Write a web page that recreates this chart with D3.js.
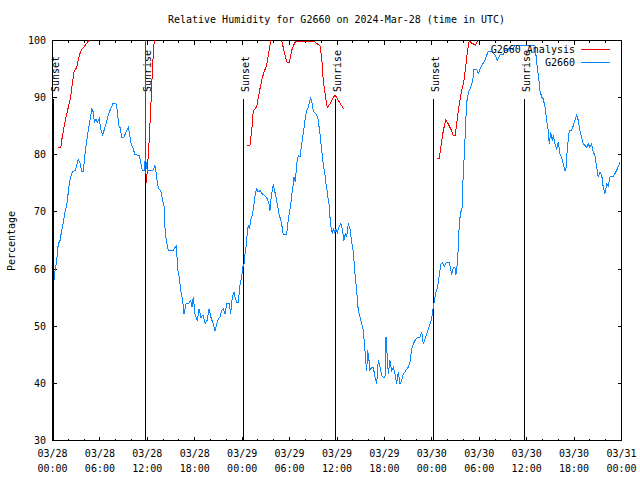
<!DOCTYPE html>
<html><head><meta charset="utf-8">
<script src="https://cdn.jsdelivr.net/npm/d3@7"></script>
<style>
body{margin:0;background:#fff}
text{font-family:"DejaVu Sans Mono",monospace;font-size:10px;fill:#000}
</style>
</head><body>
<svg id="c" width="640" height="480"></svg>
<script>
// ---- data (hours after 2024-03-28 00:00 UTC, relative humidity %) ----
const chartTitle = "Relative Humidity for G2660 on 2024-Mar-28 (time in UTC)";
const yLabel = "Percentage";
const yTickValues = [30,40,50,60,70,80,90,100];
const sunsetHours = [0.1, 24.07, 48.2];
const sunriseHours = [11.74, 35.72, 59.72];
const seriesNames = ["G2660 Analysis", "G2660"];

const g2660 = [[0.19,58],[0.32,59.75],[0.53,61.5],[0.73,64.4],[0.95,65],[1.16,66.75],[1.37,68.2],[1.58,70],[1.80,71.1],[2.00,73.5],[2.13,74.9],[2.30,76.1],[2.51,77],[2.85,77.25],[3.06,78.1],[3.26,79.2],[3.48,78.6],[3.69,77.1],[3.90,77.1],[4.11,80],[4.33,82.5],[4.53,84.25],[4.74,86],[4.96,88],[5.16,87.5],[5.29,85.7],[5.50,86.3],[5.67,85.7],[5.92,86.3],[6.14,84.25],[6.35,83.4],[6.52,84.25],[6.77,85.4],[7.06,86.9],[7.28,87.75],[7.62,88.9],[8.03,88.9],[8.20,87.75],[8.38,85.1],[8.54,84.8],[8.76,83.1],[9.05,83.1],[9.30,84],[9.59,84.8],[9.72,84],[9.89,82.2],[10.15,81.3],[10.44,80],[10.98,79.9],[11.16,78.7],[11.36,77.25],[11.62,77.25],[11.74,79.5],[12.00,77.25],[12.25,77.25],[12.68,77.25],[12.97,78.1],[13.18,76.4],[13.26,74.9],[13.48,74],[13.69,73.75],[13.89,72.3],[14.11,71.1],[14.27,66.2],[14.45,64.7],[14.65,63.25],[15.28,63.25],[15.50,63.8],[15.72,64.1],[15.79,60.3],[16.04,58.6],[16.22,56.25],[16.47,54.5],[16.64,52.2],[16.89,53.9],[17.18,53.9],[17.49,54.5],[17.65,53.3],[17.82,55.1],[18.03,52.2],[18.32,51],[18.54,53],[18.79,51.5],[19.04,52],[19.30,50.5],[19.55,51],[19.80,53],[20.06,51.5],[20.31,50.5],[20.56,49.2],[20.81,50.5],[21.07,51.5],[21.19,51.6],[21.41,52.75],[21.61,53],[21.83,52.2],[22.04,53.9],[22.37,53.9],[22.55,52.2],[22.75,55.1],[22.97,56],[23.09,55.1],[23.31,54.2],[23.51,54.2],[23.72,57.1],[23.94,58.6],[24.07,60.3],[24.23,60.9],[24.36,62.7],[24.57,64.7],[24.65,66.75],[24.77,67.6],[24.90,67],[25.08,68.5],[25.33,69.7],[25.50,71.4],[25.66,73.2],[25.84,74],[26.04,73.5],[26.26,73.75],[26.47,73.2],[26.76,73],[27.01,72.6],[27.18,72.3],[27.39,71.4],[27.52,70.25],[27.65,72.3],[27.81,73.75],[27.94,74.9],[28.06,74],[28.24,72.9],[28.44,71.4],[28.70,69.4],[28.91,68.5],[29.13,66.75],[29.20,66],[29.63,66],[29.76,67.9],[29.92,69.4],[30.05,70.5],[30.18,71.7],[30.34,73.75],[30.47,74.9],[30.56,76.1],[30.72,75.2],[30.90,78.4],[31.10,79.9],[31.32,79.6],[31.53,81.9],[31.73,83.7],[31.95,86],[32.16,87.75],[32.37,88.3],[32.49,89.2],[32.67,89.9],[32.80,89.5],[32.92,88.3],[33.09,87.5],[33.34,87.2],[33.56,86.6],[33.68,85.4],[33.85,83.7],[34.06,80.75],[34.26,78.4],[34.48,76.5],[34.61,74.9],[34.77,73.5],[34.90,72],[35.02,71.1],[35.11,69.1],[35.24,67.3],[35.40,66.2],[35.53,67],[35.74,66.4],[35.87,67],[36.04,66.4],[36.25,67.3],[36.47,68],[36.67,67],[36.88,65],[37.05,66.2],[37.22,65.6],[37.43,68],[37.64,67],[37.86,64.7],[38.06,63],[38.28,59.2],[38.49,56.25],[38.69,52.75],[38.91,51.6],[39.12,50.4],[39.33,49.25],[39.54,45.75],[39.67,43.4],[39.76,42.25],[39.88,45.75],[40.01,44.6],[40.17,42.25],[40.39,42.8],[40.59,42.8],[40.81,41.1],[41.02,39.9],[41.22,44],[41.44,42.8],[41.65,41.4],[41.86,41.1],[42.07,41.1],[42.20,48.1],[42.36,44.6],[42.49,41.7],[42.70,44],[42.92,42.25],[43.12,42.8],[43.34,41.7],[43.55,39.9],[43.75,42],[43.97,39.9],[44.18,40.5],[44.39,41.7],[44.60,42],[44.82,42.5],[45.02,42.8],[45.23,43.7],[45.45,46],[45.65,46.9],[45.87,47.5],[46.08,47.9],[46.50,48.1],[46.72,49],[46.92,46.9],[47.13,47.8],[47.35,48.7],[47.55,49.5],[47.76,50.4],[47.98,51.3],[48.18,53.3],[48.40,55.1],[48.52,56],[48.74,56.9],[48.90,58.6],[49.03,59.75],[49.16,60.9],[49.37,61.1],[49.57,60.4],[49.79,61.1],[50.21,61.1],[50.38,60],[50.51,59],[50.71,60.2],[50.93,60.2],[51.05,59],[51.22,60.9],[51.35,63.8],[51.47,67.9],[51.65,70],[51.81,70.25],[51.90,74.3],[52.07,79],[52.19,82.5],[52.32,86.6],[52.48,90.1],[52.74,91.25],[52.91,91.8],[53.17,93],[53.33,95],[53.67,95],[53.88,94.2],[54.09,95],[54.43,95.9],[54.72,96.5],[54.94,97.4],[55.14,98.1],[55.57,98.1],[55.99,97.5],[56.28,96.5],[56.62,97.5],[57.04,97.5],[57.26,98.25],[57.55,98.25],[57.80,98.7],[58.23,98.5],[58.52,99.1],[59.15,99.1],[61.05,99.1],[61.18,97.4],[61.34,95.3],[61.56,93],[61.68,91.25],[61.90,90.1],[62.10,89.8],[62.32,88.3],[62.53,86],[62.73,84.25],[62.86,81.9],[63.04,84],[63.24,82.5],[63.37,83.4],[63.58,81.9],[63.80,81],[64.00,82.2],[64.21,80.2],[64.43,79.6],[64.63,78.4],[64.85,77.25],[64.97,77.5],[65.14,81],[65.39,84.25],[65.69,84.25],[65.90,85.1],[66.11,86],[66.33,87],[66.53,86],[66.74,84.25],[66.96,83.1],[67.16,81.9],[67.38,81.6],[67.59,81.3],[67.80,81.9],[68.01,81.3],[68.22,81.9],[68.43,80.5],[68.64,79.9],[68.86,77.8],[69.06,76.1],[69.27,77],[69.49,76.5],[69.69,74.3],[69.91,73.2],[70.12,74.9],[70.33,74.6],[70.54,76.1],[70.96,76.2],[71.17,76.7],[71.46,77.5],[71.81,78.7]];

// analysis, one array per night (values above 100 fall outside the plot)
const analysisNight1 = [[0.73,81.2],[1.04,81.2],[1.16,82.5],[1.37,84.2],[1.71,86.6],[2.00,88.3],[2.30,90.1],[2.51,92.4],[2.72,94.5],[3.06,95.3],[3.39,97.4],[3.69,98.4],[4.11,99.1],[4.66,100.1],[6,102],[8,104],[10,104],[11.5,102.5],[11.72,101],[11.84,75],[11.99,77],[12.21,82],[12.46,89],[12.68,96],[12.88,100],[13.2,102]];
const analysisNight2 = [[24.65,81.7],[24.99,81.7],[25.21,84.3],[25.41,87.7],[25.84,88.4],[26.17,91],[26.47,93],[26.76,94.5],[27.10,95.6],[27.30,97.4],[27.61,100],[28.15,101],[28.66,101],[29.00,100],[29.42,97.4],[29.71,96.1],[29.96,96.1],[30.27,98.3],[30.68,99.7],[31.10,99.9],[32.0,99.8],[33.00,99.9],[33.43,99.5],[33.85,99.1],[34.06,97.1],[34.26,93],[34.61,89.5],[34.77,88.2],[35.11,88.9],[35.74,90.5],[36.16,89.5],[36.59,88.6],[36.92,87.9]];
const analysisNight3 = [[48.69,79.3],[48.94,79.3],[49.25,82.5],[49.45,84.2],[49.75,86.1],[50.08,85.4],[50.51,84.2],[50.71,83.4],[50.97,83.4],[51.14,85.4],[51.47,88.9],[51.78,91.25],[52.07,93],[52.32,95.9],[52.53,98.3],[52.74,100],[53.08,99.5],[53.55,99.2],[53.9,100.3],[54.5,102],[57,104],[60,103],[61,102]];

// ---- drawing ----
const T0 = Date.UTC(2024, 2, 28);
const toDate = h => new Date(T0 + h * 3600000);
const svg = d3.select("#c");
const L = 52.5, R = 621.5, T = 40.5, B = 440.5;
const x = d3.scaleUtc().domain([toDate(0), toDate(72)]).range([L, R]);
const y = d3.scaleLinear().domain([30, 100]).range([B, T]);

const majorT = d3.utcHour.every(6).range(toDate(0), toDate(72.01));
const minorT = d3.utcHour.every(2).range(toDate(0), toDate(72.01)).filter(d => d.getUTCHours() % 6 !== 0);

function styleAxis(g){ g.select(".domain").remove(); g.selectAll("line").attr("stroke","#000").attr("shape-rendering","crispEdges"); }

svg.append("g").attr("transform",`translate(0,${B})`).call(d3.axisBottom(x).tickValues(majorT).tickSize(-4).tickFormat("").offset(0)).call(styleAxis);
svg.append("g").attr("transform",`translate(0,${B})`).call(d3.axisBottom(x).tickValues(minorT).tickSize(-2).tickFormat("").offset(0)).call(styleAxis);
svg.append("g").attr("transform",`translate(0,${T})`).call(d3.axisTop(x).tickValues(majorT).tickSize(-4).tickFormat("").offset(0)).call(styleAxis);
svg.append("g").attr("transform",`translate(0,${T})`).call(d3.axisTop(x).tickValues(minorT).tickSize(-2).tickFormat("").offset(0)).call(styleAxis);
svg.append("g").attr("transform",`translate(${L},0)`).call(d3.axisLeft(y).tickValues(yTickValues).tickSize(-4).tickFormat("").offset(0)).call(styleAxis);
svg.append("g").attr("transform",`translate(${R},0)`).call(d3.axisRight(y).tickValues(yTickValues).tickSize(-4).tickFormat("").offset(0)).call(styleAxis);

// frame
svg.append("rect").attr("x",L).attr("y",T).attr("width",R-L).attr("height",B-T)
  .attr("fill","none").attr("stroke","#000").attr("shape-rendering","crispEdges");

// tick labels
const fmtD = d3.utcFormat("%m/%d"), fmtH = d3.utcFormat("%H:%M");
const xl = svg.append("g").selectAll("text").data(majorT).join("text")
  .attr("text-anchor","middle").attr("x", d => x(d));
xl.append("tspan").attr("x", d => x(d)).attr("y", 457).text(fmtD);
xl.append("tspan").attr("x", d => x(d)).attr("y", 472).text(fmtH);
svg.append("g").selectAll("text").data(yTickValues).join("text")
  .attr("text-anchor","end").attr("x", 46).attr("y", d => y(d) + 3.5).text(d => d);

// titles
svg.append("text").attr("x", 336.5).attr("y", 23).attr("text-anchor","middle").text(chartTitle);
svg.append("text").attr("transform","translate(15,241) rotate(-90)").attr("text-anchor","middle").text(yLabel);

// sunset / sunrise markers
const events = sunsetHours.map(h => ({h, name:"Sunset"})).concat(sunriseHours.map(h => ({h, name:"Sunrise"})));
const ev = svg.append("g").selectAll("g").data(events).join("g");
ev.append("line").attr("x1", d => Math.round(x(toDate(d.h))) + 0.5).attr("x2", d => Math.round(x(toDate(d.h))) + 0.5)
  .attr("y1", y(30)).attr("y2", y(89.7)).attr("stroke","#000").attr("shape-rendering","crispEdges");
ev.append("text").attr("transform", d => `translate(${Math.round(x(toDate(d.h))) + 5.5},92) rotate(-90)`)
  .attr("text-anchor","start").text(d => d.name);

// clip
svg.append("clipPath").attr("id","clip").append("rect").attr("x",L).attr("y",T).attr("width",R-L).attr("height",B-T);
const line = d3.line().x(d => x(toDate(d[0]))).y(d => y(d[1]));
const plot = svg.append("g").attr("clip-path","url(#clip)");
const RED = "#ff0000", BLUE = "#0a86ff";
[analysisNight1, analysisNight2, analysisNight3].forEach(seg => {
  plot.append("path").datum(seg).attr("d", line).attr("fill","none").attr("stroke",RED).attr("stroke-width",1).attr("shape-rendering","crispEdges");
});
plot.append("path").datum(g2660).attr("d", line).attr("fill","none").attr("stroke",BLUE).attr("stroke-width",1).attr("shape-rendering","crispEdges");

// legend
const leg = svg.append("g");
[[seriesNames[0], RED, 49.5], [seriesNames[1], BLUE, 62.5]].forEach(([name, col, yy]) => {
  leg.append("text").attr("x", 575).attr("y", yy + 3.5).attr("text-anchor","end").text(name);
  leg.append("line").attr("x1", 581).attr("x2", 610).attr("y1", yy).attr("y2", yy).attr("stroke", col).attr("shape-rendering","crispEdges");
});
</script>
</body></html>
